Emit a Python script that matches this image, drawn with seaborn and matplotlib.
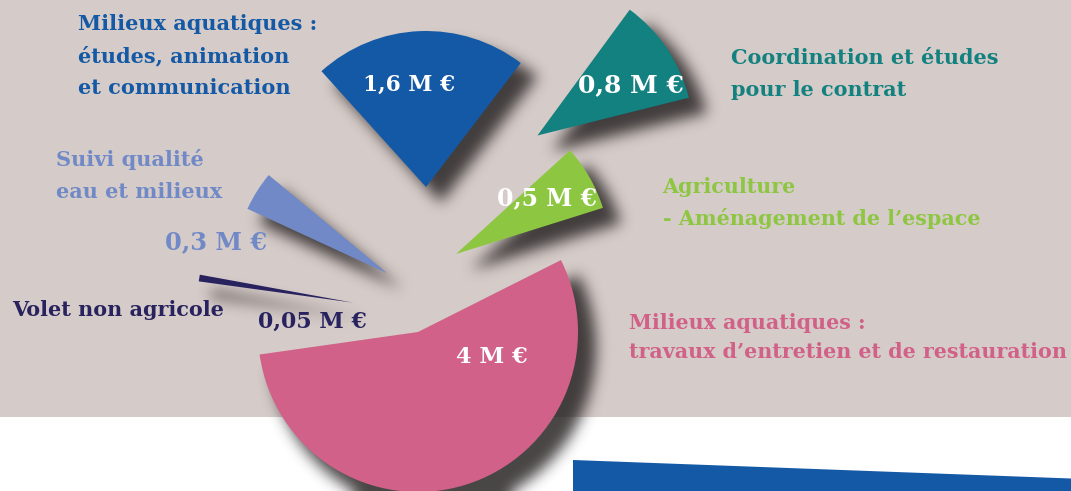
import numpy as np
import matplotlib
matplotlib.use("Agg")
import matplotlib.pyplot as plt
import seaborn as sns
from matplotlib.patches import Wedge, Rectangle, Polygon

# ---------------- data ----------------
categories = [
    "Milieux aquatiques :\ntravaux d’entretien et de restauration",
    "Agriculture\n- Aménagement de l’espace",
    "Coordination et études\npour le contrat",
    "Milieux aquatiques :\nétudes, animation\net communication",
    "Suivi qualité\neau et milieux",
    "Volet non agricole",
]
values = [4.0, 0.5, 0.8, 1.6, 0.3, 0.05]          # M€
value_labels = ["4 M €", "0,5 M €", "0,8 M €", "1,6 M €", "0,3 M €", "0,05 M €"]
colors = ["#d16188", "#8dc641", "#12817f", "#1459a5", "#7189c6", "#28235f"]

# ---------------- layout (pixel coords, y downwards) ----------------
W, H = 1071, 491
# apex position, radius, mid-angle (deg, counter-clockwise, y up)
apex = [(418, 332), (456, 254), (537.5, 135.5), (426, 187), (387.3, 273.3), (353.3, 302.7)]
radius = [160, 154, 156, 156, 154, 156]
mid_angle = [-72.6, 29.85, 33.9, 92.35, 147.8, 170.9]
# value label: centre and fitted width
val_pos = [(492, 357), (547, 198), (631, 85), (409, 85), (216, 242), (312, 322)]
val_w = [72, 100, 106, 92, 102, 109]
val_col = ["white", "white", "white", "white", colors[4], colors[5]]
# category label: left x, first line y, line spacing, widest line width
cat_pos = [(629, 323.3), (662.6, 186.7), (731, 58.3), (78.5, 24.0), (56, 159.3), (12, 310)]
cat_sp = [28.4, 31.6, 31.7, 32.2, 32.4, 32]
cat_w = [437, 318, 266, 238, 166, 212]

BG = "#d5cbc8"
SHADOW_OFF = (15, 16)
SHADOW_SIGMA = 7.0

sns.set_theme(style="white")
plt.rcParams["font.family"] = ["DejaVu Serif", "DejaVu Sans"]
palette = sns.color_palette(colors)

fig = plt.figure(figsize=(W / 100, H / 100), dpi=100, facecolor="white")
ax = fig.add_axes([0, 0, 1, 1])
ax.set_xlim(0, W)
ax.set_ylim(H, 0)
ax.axis("off")

# background panels
ax.add_patch(Rectangle((0, 0), W, 416.5, facecolor=BG, edgecolor="none", zorder=0))
ax.add_patch(Polygon([(573, 460), (W, 478.5), (W, H), (573, H)], closed=True,
                     facecolor="#1459a5", edgecolor="none", zorder=0.5))

total = sum(values)
spans = [v / total * 360.0 for v in values]

# ---------------- blurred drop shadow ----------------
yy, xx = np.mgrid[0:H, 0:W].astype(float) + 0.5
mask = np.zeros((H, W), dtype=float)
for (cx, cy), r, m, s in zip(apex, radius, mid_angle, spans):
    dx = xx - (cx + SHADOW_OFF[0])
    dy = -(yy - (cy + SHADOW_OFF[1]))
    rr = np.hypot(dx, dy)
    ang = np.degrees(np.arctan2(dy, dx))
    t1 = m - s / 2
    inside = (rr <= r + 3) & (((ang - t1) % 360.0) <= s)
    mask[inside] = 1.0

R = int(3 * SHADOW_SIGMA)
k = np.exp(-0.5 * (np.arange(-R, R + 1) / SHADOW_SIGMA) ** 2)
k /= k.sum()
pad = np.pad(mask, R, mode="edge")
tmp = np.zeros_like(pad)
for i, w in enumerate(k):
    tmp += w * np.roll(pad, i - R, axis=0)
out = np.zeros_like(pad)
for i, w in enumerate(k):
    out += w * np.roll(tmp, i - R, axis=1)
blur = out[R:-R, R:-R]
rgba = np.zeros((H, W, 4))
rgba[..., 0] = 0.16
rgba[..., 1] = 0.145
rgba[..., 2] = 0.145
rgba[..., 3] = np.clip(blur * 0.85, 0, 1)
ax.imshow(rgba, extent=(0, W, H, 0), origin="upper", zorder=1, interpolation="bilinear")

# ---------------- wedges ----------------
for (cx, cy), r, m, s, c in zip(apex, radius, mid_angle, spans, palette):
    a1, a2 = m - s / 2, m + s / 2
    # y axis is inverted: flip angles
    ax.add_patch(Wedge((cx, cy), r, -a2, -a1, facecolor=c, edgecolor="none", zorder=2))

# ---------------- texts ----------------
fig.canvas.draw()
renderer = fig.canvas.get_renderer()

def fit(txts, target):
    w = max(t.get_window_extent(renderer).width for t in txts)
    for t in txts:
        t.set_fontsize(t.get_fontsize() * target / w)

for lab, (x, y), tw, col in zip(value_labels, val_pos, val_w, val_col):
    t = ax.text(x, y, lab, ha="center", va="center", color=col, fontsize=18,
                fontweight="bold", zorder=4)
    fit([t], tw)

for cat, (x, y), sp, tw, col in zip(categories, cat_pos, cat_sp, cat_w, palette):
    ts = []
    for i, line in enumerate(cat.split("\n")):
        ts.append(ax.text(x, y + i * sp, line, ha="left", va="center", color=col,
                          fontsize=16, fontweight="bold", zorder=4))
    fit(ts, tw)

fig.savefig("out.png", dpi=100, facecolor="white")
